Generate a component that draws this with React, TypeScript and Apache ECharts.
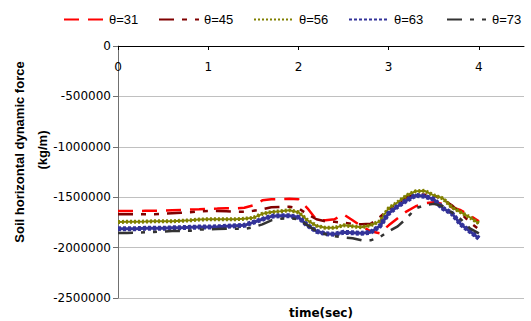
import React, { useEffect, useRef } from "react";
import * as echarts from "echarts";

const TIME = [0, 0.1, 0.2, 0.3, 0.4, 0.5, 0.6, 0.7, 0.8, 0.9, 1, 1.1, 1.2, 1.3, 1.4, 1.5, 1.6, 1.7, 1.8, 1.9, 2, 2.1, 2.2, 2.3, 2.4, 2.5, 2.6, 2.7, 2.8, 2.9, 3, 3.1, 3.2, 3.3, 3.4, 3.5, 3.6, 3.7, 3.8, 3.9, 4];

const THETA_31 = [
  -1637000, -1637000, -1637000, -1635000, -1635000, -1633000, -1630000, -1627000, -1623000, -1620000,
  -1615000, -1613000, -1610000, -1610000, -1605000, -1580000, -1531000, -1521000, -1521000, -1516000,
  -1521000, -1610000, -1724000, -1729000, -1719000, -1670000, -1729000, -1789000, -1838000, -1858000,
  -1779000, -1709000, -1640000, -1590000, -1561000, -1551000, -1566000, -1600000, -1630000, -1680000, -1739000,
];
const THETA_45 = [
  -1670000, -1670000, -1670000, -1670000, -1670000, -1665000, -1660000, -1655000, -1650000, -1640000,
  -1637000, -1637000, -1640000, -1645000, -1645000, -1635000, -1620000, -1600000, -1597000, -1595000,
  -1610000, -1670000, -1719000, -1739000, -1744000, -1754000, -1764000, -1769000, -1764000, -1699000,
  -1620000, -1561000, -1501000, -1471000, -1476000, -1481000, -1521000, -1580000, -1660000, -1749000, -1818000,
];
const THETA_56 = [
  -1746000, -1744000, -1744000, -1742000, -1739000, -1739000, -1739000, -1734000, -1729000, -1722000,
  -1719000, -1719000, -1719000, -1719000, -1714000, -1704000, -1665000, -1647000, -1640000, -1630000,
  -1650000, -1729000, -1784000, -1804000, -1804000, -1779000, -1789000, -1799000, -1779000, -1739000,
  -1610000, -1551000, -1481000, -1441000, -1437000, -1481000, -1511000, -1600000, -1650000, -1699000, -1759000,
];
const THETA_63 = [
  -1812000, -1812000, -1812000, -1809000, -1809000, -1809000, -1804000, -1802000, -1799000, -1796000,
  -1796000, -1794000, -1789000, -1784000, -1779000, -1749000, -1719000, -1690000, -1683000, -1685000,
  -1699000, -1779000, -1838000, -1863000, -1868000, -1848000, -1853000, -1858000, -1848000, -1789000,
  -1660000, -1590000, -1531000, -1481000, -1491000, -1521000, -1610000, -1660000, -1769000, -1838000, -1908000,
];
const THETA_73 = [
  -1855000, -1855000, -1853000, -1848000, -1845000, -1841000, -1835000, -1835000, -1833000, -1821000,
  -1818000, -1816000, -1812000, -1812000, -1814000, -1799000, -1769000, -1729000, -1714000, -1709000,
  -1719000, -1779000, -1838000, -1868000, -1888000, -1898000, -1908000, -1928000, -1928000, -1898000,
  -1838000, -1789000, -1709000, -1610000, -1580000, -1566000, -1590000, -1650000, -1719000, -1809000, -1858000,
];

const SERIES_NAMES = ["θ=31", "θ=45", "θ=56", "θ=63", "θ=73"];
const X_TICKS = [0, 1, 2, 3, 4];
const X_TITLE = "time(sec)";
const Y_TITLE_1 = "Soil horizontal dynamic force";
const Y_TITLE_2 = "(kg/m)";

const FONT = "'DejaVu Sans', sans-serif";
const LEGEND_LEFTS = [63, 158, 253, 348, 446];

export default function App() {
  const ref = useRef<HTMLDivElement>(null);
  useEffect(() => {
    const chart = echarts.init(ref.current!, null, { renderer: "svg" });
    const pair = (vals: number[]) => TIME.map((t, i) => [t, vals[i]]);
    const base = { type: "line", symbol: "none", showSymbol: false, silent: true };
    chart.setOption({
      animation: false,
      backgroundColor: "#ffffff",
      grid: { left: 118, top: 46, width: 406, height: 252, containLabel: false, outerBoundsMode: "none" },
      legend: SERIES_NAMES.map((n, i) => ({
        data: [n],
        left: LEGEND_LEFTS[i],
        top: 13,
        itemWidth: 40,
        itemHeight: 14,
        itemGap: 0,
        padding: 0,
        itemStyle: { opacity: 0 },
        textStyle: { fontFamily: "'Liberation Sans', Arial, sans-serif", fontSize: 13, color: "#000" },
        selectedMode: false,
      })),
      xAxis: {
        type: "value",
        position: "top",
        min: 0,
        max: 4.5,
        interval: 1,
        axisLine: { show: true, onZero: false, lineStyle: { color: "#000", width: 1 } },
        axisTick: { show: true, inside: true, length: 4, customValues: X_TICKS, lineStyle: { color: "#000" } },
        axisLabel: {
          inside: true,
          customValues: X_TICKS,
          margin: 15,
          fontFamily: FONT,
          fontSize: 12,
          color: "#000",
          formatter: (v: number) => (Number.isInteger(v) ? String(v) : ""),
        },
        splitLine: { show: false },
      },
      yAxis: {
        type: "value",
        min: -2500000,
        max: 0,
        interval: 500000,
        axisLine: { show: true, lineStyle: { color: "#707070", width: 1 } },
        axisTick: { show: true, length: 5, lineStyle: { color: "#707070" } },
        axisLabel: {
          margin: 7,
          fontFamily: FONT,
          fontSize: 12,
          color: "#000",
          formatter: (v: number) => String(v),
        },
        splitLine: { show: true, lineStyle: { color: "#c0c0c0", width: 1 } },
      },
      graphic: [
        {
          type: "text",
          x: 19,
          y: 152,
          rotation: Math.PI / 2,
          style: {
            text: Y_TITLE_1,
            font: "bold 13px 'Liberation Sans', Arial, sans-serif",
            fill: "#000",
            align: "center",
            verticalAlign: "middle",
          },
        },
        {
          type: "text",
          x: 42,
          y: 150,
          rotation: Math.PI / 2,
          style: {
            text: Y_TITLE_2,
            font: "bold 13px 'Liberation Sans', Arial, sans-serif",
            fill: "#000",
            align: "center",
            verticalAlign: "middle",
          },
        },
        {
          type: "text",
          x: 321,
          y: 313,
          style: {
            text: X_TITLE,
            font: "bold 12px 'DejaVu Sans', sans-serif",
            fill: "#000",
            align: "center",
            verticalAlign: "middle",
          },
        },
      ],
      series: [
        {
          ...base,
          name: SERIES_NAMES[0],
          data: pair(THETA_31),
          itemStyle: { color: "#ff0000" },
          lineStyle: { color: "#ff0000", width: 2.5, type: [15, 9] },
        },
        {
          ...base,
          name: SERIES_NAMES[1],
          data: pair(THETA_45),
          itemStyle: { color: "#800000" },
          lineStyle: { color: "#800000", width: 2.5, type: [15, 8, 5, 8, 5, 8] },
        },
        {
          ...base,
          name: SERIES_NAMES[2],
          data: pair(THETA_56),
          itemStyle: { color: "#808000" },
          lineStyle: { color: "#808000", width: 4, type: [2, 2] },
        },
        {
          ...base,
          name: SERIES_NAMES[2],
          data: pair(THETA_56),
          itemStyle: { color: "#808000" },
          lineStyle: { color: "#808000", width: 2, type: "solid" },
        },
        {
          ...base,
          name: SERIES_NAMES[3],
          data: pair(THETA_63),
          itemStyle: { color: "#333399" },
          lineStyle: { color: "#333399", width: 5, type: [3, 2] },
        },
        {
          ...base,
          name: SERIES_NAMES[3],
          data: pair(THETA_63),
          itemStyle: { color: "#333399" },
          lineStyle: { color: "#333399", width: 3, type: "solid" },
        },
        {
          ...base,
          name: SERIES_NAMES[4],
          data: pair(THETA_73),
          itemStyle: { color: "#333333" },
          lineStyle: { color: "#333333", width: 2.5, type: [15, 8, 4, 8, 4, 8] },
        },
      ],
    });
    return () => chart.dispose();
  }, []);
  return (
    <div
      ref={ref}
      style={{ position: "fixed", left: 0, top: 0, width: 531, height: 321, background: "#fff" }}
    />
  );
}
